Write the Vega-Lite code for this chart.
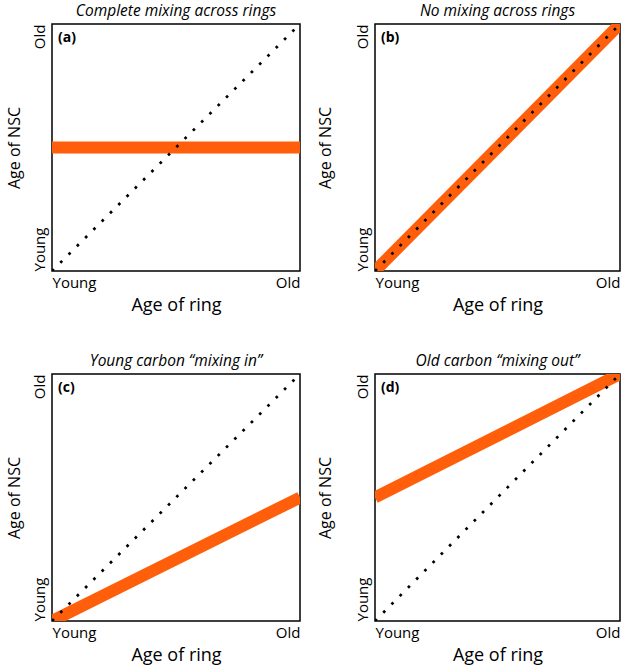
{
  "$schema": "https://vega.github.io/schema/vega-lite/v6.json",
  "padding": {"left": 5, "top": 2, "right": 2, "bottom": 0},
  "background": "white",
  "datasets": {"lines": [
    {"panel": "a", "letter": "(a)", "series": "orange", "x": 0, "y": 0.5},
    {"panel": "a", "letter": "(a)", "series": "orange", "x": 1, "y": 0.5},
    {"panel": "a", "letter": "(a)", "series": "dots", "x": 0, "y": 0},
    {"panel": "a", "letter": "(a)", "series": "dots", "x": 1, "y": 1},
    {"panel": "b", "letter": "(b)", "series": "orange", "x": 0, "y": 0},
    {"panel": "b", "letter": "(b)", "series": "orange", "x": 1, "y": 1},
    {"panel": "b", "letter": "(b)", "series": "dots", "x": 0, "y": 0},
    {"panel": "b", "letter": "(b)", "series": "dots", "x": 1, "y": 1},
    {"panel": "c", "letter": "(c)", "series": "orange", "x": 0, "y": 0},
    {"panel": "c", "letter": "(c)", "series": "orange", "x": 1, "y": 0.5},
    {"panel": "c", "letter": "(c)", "series": "dots", "x": 0, "y": 0},
    {"panel": "c", "letter": "(c)", "series": "dots", "x": 1, "y": 1},
    {"panel": "d", "letter": "(d)", "series": "orange", "x": 0, "y": 0.5},
    {"panel": "d", "letter": "(d)", "series": "orange", "x": 1, "y": 1},
    {"panel": "d", "letter": "(d)", "series": "dots", "x": 0, "y": 0},
    {"panel": "d", "letter": "(d)", "series": "dots", "x": 1, "y": 1}
  ]},
  "spacing": 37,
  "vconcat": [
    {"hconcat": [
      {
        "title": "Complete mixing across rings",
        "width": 248, "height": 247,
        "data": {"name": "lines"},
        "transform": [{"filter": "datum.panel == 'a'"}],
        "encoding": {
          "x": {"field": "x", "type": "quantitative", "scale": {"domain": [0, 1], "nice": false, "zero": false}, "axis": {"title": "Age of ring", "values": [0, 1], "labelExpr": "datum.value == 0 ? 'Young' : 'Old'", "labelFlush": true}},
          "y": {"field": "y", "type": "quantitative", "scale": {"domain": [0, 1], "nice": false, "zero": false}, "axis": {"title": "Age of NSC", "values": [0, 1], "labelExpr": "datum.value == 0 ? 'Young' : 'Old'", "labelAngle": -90, "labelAlign": {"condition": {"test": "datum.value == 0", "value": "left"}, "value": "right"}, "labelBaseline": "bottom"}}
        },
        "layer": [
          {"transform": [{"filter": "datum.series == 'orange'"}], "mark": {"type": "line", "color": "#ff5f0a", "strokeWidth": 12, "strokeCap": "butt", "clip": true}},
          {"transform": [{"filter": "datum.series == 'dots'"}], "mark": {"type": "line", "color": "black", "strokeWidth": 2.7, "strokeDash": [2.7, 9.0], "clip": true}},
          {"transform": [{"filter": "datum.series == 'orange' && datum.x == 0"}], "mark": {"type": "text", "align": "left", "baseline": "top", "dx": 6, "dy": 7, "font": "Open Sans", "fontWeight": "bold", "fontSize": 14, "color": "black"},
            "encoding": {"x": {"datum": 0, "type": "quantitative"}, "y": {"datum": 1, "type": "quantitative"}, "text": {"field": "letter"}}}
        ]
      },
      {
        "title": "No mixing across rings",
        "width": 245, "height": 247,
        "data": {"name": "lines"},
        "transform": [{"filter": "datum.panel == 'b'"}],
        "encoding": {
          "x": {"field": "x", "type": "quantitative", "scale": {"domain": [0, 1], "nice": false, "zero": false}, "axis": {"title": "Age of ring", "values": [0, 1], "labelExpr": "datum.value == 0 ? 'Young' : 'Old'", "labelFlush": true}},
          "y": {"field": "y", "type": "quantitative", "scale": {"domain": [0, 1], "nice": false, "zero": false}, "axis": {"title": "Age of NSC", "titlePadding": 22, "values": [0, 1], "labelExpr": "datum.value == 0 ? 'Young' : 'Old'", "labelAngle": -90, "labelAlign": {"condition": {"test": "datum.value == 0", "value": "left"}, "value": "right"}, "labelBaseline": "bottom"}}
        },
        "layer": [
          {"transform": [{"filter": "datum.series == 'orange'"}], "mark": {"type": "line", "color": "#ff5f0a", "strokeWidth": 12, "strokeCap": "butt", "clip": true}},
          {"transform": [{"filter": "datum.series == 'dots'"}], "mark": {"type": "line", "color": "black", "strokeWidth": 2.7, "strokeDash": [2.7, 9.0], "clip": true}},
          {"transform": [{"filter": "datum.series == 'orange' && datum.x == 0"}], "mark": {"type": "text", "align": "left", "baseline": "top", "dx": 6, "dy": 7, "font": "Open Sans", "fontWeight": "bold", "fontSize": 14, "color": "black"},
            "encoding": {"x": {"datum": 0, "type": "quantitative"}, "y": {"datum": 1, "type": "quantitative"}, "text": {"field": "letter"}}}
        ]
      }
    ], "spacing": 15},
    {"hconcat": [
      {
        "title": "Young carbon \u201cmixing in\u201d",
        "width": 248, "height": 247,
        "data": {"name": "lines"},
        "transform": [{"filter": "datum.panel == 'c'"}],
        "encoding": {
          "x": {"field": "x", "type": "quantitative", "scale": {"domain": [0, 1], "nice": false, "zero": false}, "axis": {"title": "Age of ring", "values": [0, 1], "labelExpr": "datum.value == 0 ? 'Young' : 'Old'", "labelFlush": true}},
          "y": {"field": "y", "type": "quantitative", "scale": {"domain": [0, 1], "nice": false, "zero": false}, "axis": {"title": "Age of NSC", "values": [0, 1], "labelExpr": "datum.value == 0 ? 'Young' : 'Old'", "labelAngle": -90, "labelAlign": {"condition": {"test": "datum.value == 0", "value": "left"}, "value": "right"}, "labelBaseline": "bottom"}}
        },
        "layer": [
          {"transform": [{"filter": "datum.series == 'orange'"}], "mark": {"type": "line", "color": "#ff5f0a", "strokeWidth": 12, "strokeCap": "butt", "clip": true}},
          {"transform": [{"filter": "datum.series == 'dots'"}], "mark": {"type": "line", "color": "black", "strokeWidth": 2.7, "strokeDash": [2.7, 9.0], "clip": true}},
          {"transform": [{"filter": "datum.series == 'orange' && datum.x == 0"}], "mark": {"type": "text", "align": "left", "baseline": "top", "dx": 6, "dy": 7, "font": "Open Sans", "fontWeight": "bold", "fontSize": 14, "color": "black"},
            "encoding": {"x": {"datum": 0, "type": "quantitative"}, "y": {"datum": 1, "type": "quantitative"}, "text": {"field": "letter"}}}
        ]
      },
      {
        "title": "Old carbon \u201cmixing out\u201d",
        "width": 245, "height": 247,
        "data": {"name": "lines"},
        "transform": [{"filter": "datum.panel == 'd'"}],
        "encoding": {
          "x": {"field": "x", "type": "quantitative", "scale": {"domain": [0, 1], "nice": false, "zero": false}, "axis": {"title": "Age of ring", "values": [0, 1], "labelExpr": "datum.value == 0 ? 'Young' : 'Old'", "labelFlush": true}},
          "y": {"field": "y", "type": "quantitative", "scale": {"domain": [0, 1], "nice": false, "zero": false}, "axis": {"title": "Age of NSC", "titlePadding": 22, "values": [0, 1], "labelExpr": "datum.value == 0 ? 'Young' : 'Old'", "labelAngle": -90, "labelAlign": {"condition": {"test": "datum.value == 0", "value": "left"}, "value": "right"}, "labelBaseline": "bottom"}}
        },
        "layer": [
          {"transform": [{"filter": "datum.series == 'orange'"}], "mark": {"type": "line", "color": "#ff5f0a", "strokeWidth": 12, "strokeCap": "butt", "clip": true}},
          {"transform": [{"filter": "datum.series == 'dots'"}], "mark": {"type": "line", "color": "black", "strokeWidth": 2.7, "strokeDash": [2.7, 9.0], "clip": true}},
          {"transform": [{"filter": "datum.series == 'orange' && datum.x == 0"}], "mark": {"type": "text", "align": "left", "baseline": "top", "dx": 6, "dy": 7, "font": "Open Sans", "fontWeight": "bold", "fontSize": 14, "color": "black"},
            "encoding": {"x": {"datum": 0, "type": "quantitative"}, "y": {"datum": 1, "type": "quantitative"}, "text": {"field": "letter"}}}
        ]
      }
    ], "spacing": 15}
  ],
  "config": {
    "view": {"stroke": "black", "strokeWidth": 1.5},
    "title": {"font": "Open Sans", "fontStyle": "italic", "fontWeight": "normal", "fontSize": 15.5, "color": "black", "anchor": "middle", "offset": 5},
    "axis": {"ticks": false, "domain": false, "grid": false, "labelFont": "Open Sans", "labelFontSize": 15, "labelColor": "black", "titleFont": "Open Sans", "titleFontWeight": "normal", "titleColor": "black"},
    "axisX": {"labelPadding": 4, "titleFontSize": 18, "titlePadding": 6},
    "axisY": {"labelPadding": 5, "titleFontSize": 16, "titlePadding": 10}
  }
}
